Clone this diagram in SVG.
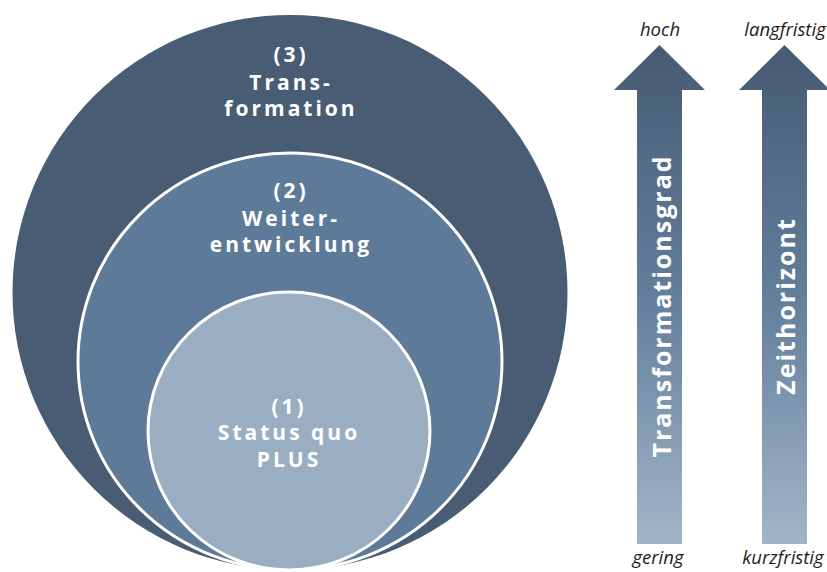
<svg xmlns="http://www.w3.org/2000/svg" width="827" height="572" viewBox="0 0 827 572">
  <style>
    .lbl { font-family: "Open Sans", "Noto Sans", "DejaVu Sans", sans-serif; font-weight: bold; font-size: 21px; fill: #ffffff; letter-spacing: 3px; text-anchor: middle; }
    .arr { font-family: "Open Sans", "Noto Sans", "DejaVu Sans", sans-serif; font-weight: bold; font-size: 25px; fill: #ffffff; letter-spacing: 2px; text-anchor: middle; }
    .cap { font-family: "Open Sans", "Noto Sans", "DejaVu Sans", sans-serif; font-style: italic; font-size: 18.5px; fill: #1e1e1e; text-anchor: middle; }
  </style>
  <defs>
    <linearGradient id="arrowGrad" gradientUnits="userSpaceOnUse" x1="0" y1="45" x2="0" y2="544">
      <stop offset="0" stop-color="#465b73"/>
      <stop offset="0.5" stop-color="#627e9b"/>
      <stop offset="1" stop-color="#a1b5c8"/>
    </linearGradient>
  </defs>
  <rect x="0" y="0" width="827" height="572" fill="#ffffff"/>

  <g id="circle-3">
    <circle cx="290" cy="292.5" r="277.5" fill="#485c73"/>
    <text class="lbl" x="291" y="62">(3)</text>
    <text class="lbl" x="291" y="90">Trans-</text>
    <text class="lbl" x="291" y="116">formation</text>
  </g>

  <g id="circle-2">
    <ellipse cx="290" cy="361.5" rx="212" ry="208.5" fill="#5d7a99" stroke="#ffffff" stroke-width="3"/>
    <text class="lbl" x="291" y="198">(2)</text>
    <text class="lbl" x="291" y="226">Weiter-</text>
    <text class="lbl" x="291" y="252">entwicklung</text>
  </g>

  <g id="circle-1">
    <ellipse cx="289" cy="431" rx="141" ry="139" fill="#9aaec2" stroke="#ffffff" stroke-width="3"/>
    <text class="lbl" x="289" y="414">(1)</text>
    <text class="lbl" x="289" y="440">Status quo</text>
    <text class="lbl" x="289" y="467">PLUS</text>
  </g>

  <g id="arrow-transformationsgrad">
    <polygon points="659.5,45 705,90 682,90 682,544 637,544 637,90 614,90" fill="url(#arrowGrad)"/>
    <text class="arr" transform="translate(671,306) rotate(-90)" x="0" y="0">Transformationsgrad</text>
    <text class="cap" x="660" y="36">hoch</text>
    <text class="cap" x="658" y="564">gering</text>
  </g>

  <g id="arrow-zeithorizont">
    <polygon points="784.5,45 830,90 807,90 807,544 762,544 762,90 739,90" fill="url(#arrowGrad)"/>
    <text class="arr" transform="translate(795,306) rotate(-90)" x="0" y="0">Zeithorizont</text>
    <text class="cap" x="785" y="36">langfristig</text>
    <text class="cap" x="783" y="564">kurzfristig</text>
  </g>

  <g id="connectors"/>
</svg>
